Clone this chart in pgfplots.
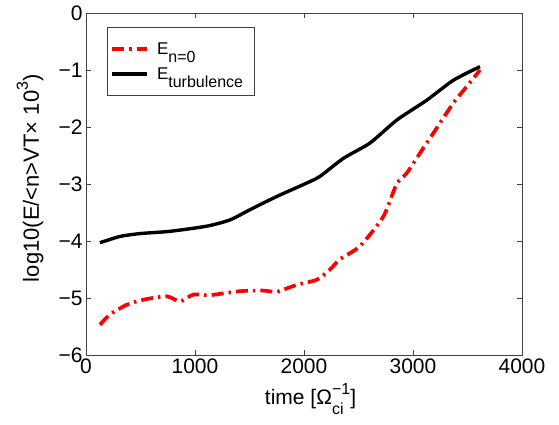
\documentclass[border=0pt]{standalone}
\usepackage{fontspec}
\setmainfont{Liberation Sans}
\usepackage{pgfplots}
\pgfplotsset{compat=1.18}

\pgfplotstableread{
t     v
128  -5.47
220  -5.29
373  -5.12
526  -5.03
740  -4.97
862  -5.06
985  -4.94
1138 -4.95
1413 -4.88
1627 -4.87
1750 -4.89
1933 -4.77
2117 -4.68
2239 -4.50
2330 -4.32
2514 -4.09
2728 -3.57
2850 -3.00
2942 -2.81
3064 -2.46
3186 -2.11
3370 -1.58
3493 -1.29
3615 -1.00
}\nzero

\pgfplotstableread{
t     v
128  -4.03
312  -3.92
495  -3.87
771  -3.83
1107 -3.74
1321 -3.63
1505 -3.45
1749 -3.22
1994 -3.01
2143 -2.87
2361 -2.55
2606 -2.28
2850 -1.88
3126 -1.53
3370 -1.18
3615 -0.94
}\turb

\newcommand{\lbl}{\fontsize{21}{24}\selectfont}
\newcommand{\ylbl}{\fontsize{22}{24}\selectfont}
\newcommand{\legfont}{\fontsize{17}{20}\selectfont}
\newcommand{\smallidx}{\fontsize{16}{16}\selectfont}
% subscript/superscript stacked the MATLAB way
\newcommand{\sub}[1]{\raisebox{-0.5em}{\smallidx #1}}
\newcommand{\supsub}[2]{\rlap{\raisebox{-0.45em}{\smallidx #2}}\raisebox{0.5em}{\smallidx #1}}

\begin{document}
\begin{tikzpicture}
\begin{axis}[
    scale only axis,
    width=436pt, height=342pt,
    xmin=0, xmax=4000, ymin=-6, ymax=0,
    xtick={0,1000,2000,3000,4000},
    ytick={-6,-5,-4,-3,-2,-1,0},
    yticklabels={−6,−5,−4,−3,−2,−1,0},
    scaled x ticks=false,
    /pgf/number format/assume math mode=true,
    /pgf/number format/1000 sep={},
    tick label style={font=\lbl},
    xlabel style={font=\lbl},
    ylabel style={font=\ylbl},
    xlabel={time [Ω\supsub{−1}{ci}]},
    ylabel={log10(E/<n>VT× 10\raisebox{0.5em}{\smallidx 3})},
    xlabel style={at={(axis description cs:0.515,-0.146)}, anchor=base},
    ylabel style={at={(axis description cs:-0.128,0.517)}, anchor=center},
    major tick length=5pt,
    axis line style={line width=0.8pt, black!75},
    every tick/.style={line width=0.8pt, black!75},
    legend style={at={(0.048,0.959)}, anchor=north west, font=\legfont,
        draw=black!75, line width=0.8pt, row sep=0pt,
        inner xsep=3pt, inner ysep=9pt,
        nodes={text height=18pt, text depth=7pt, inner ysep=0pt, inner xsep=8pt}},
    legend cell align=left,
    legend image code/.code={\draw[#1] (0pt,0pt) -- (35pt,0pt);},
]
\addplot[red, line width=3.7pt, smooth, tension=0.4,
    dash pattern=on 12pt off 5pt on 2.5pt off 5pt] table[x=t,y=v] {\nzero};
\addlegendentry{E\sub{n=0}}
\addplot[black, line width=3.4pt, smooth, tension=0.4] table[x=t,y=v] {\turb};
\addlegendentry{E\sub{turbulence}}
\end{axis}
\pgfresetboundingbox
\useasboundingbox (-86pt,-69pt) rectangle (473pt,355pt);
\end{tikzpicture}
\end{document}
